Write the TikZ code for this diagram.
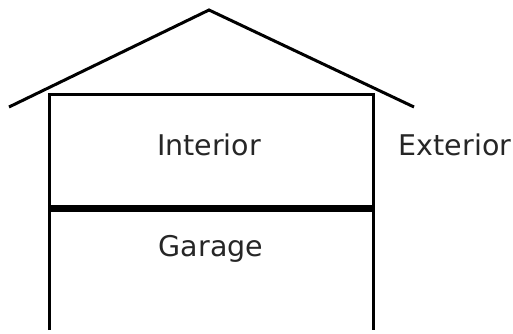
\documentclass[tikz,border=0pt]{standalone}
\usepackage{fontspec}
\setmainfont{DejaVu Sans}
\begin{document}
\begin{tikzpicture}[x=1pt,y=1pt,
  wall/.style={line width=3pt},
  floorline/.style={line width=7pt},
  label/.style={font=\fontsize{28.5}{32}\selectfont, text=black!85, inner sep=0pt}]
\useasboundingbox (0,0) rectangle (513,333);
% roof
\coordinate (eaveL) at (9,226);
\coordinate (apex) at (209,323);
\coordinate (eaveR) at (414,226);
\draw[wall, line join=miter] (eaveL) -- (apex) -- (eaveR);
% walls and ceiling
\coordinate (wbl) at (49,3);
\coordinate (wtl) at (49,239);
\coordinate (wtr) at (373,239);
\coordinate (wbr) at (373,3);
\draw[wall] (wbl) -- (wtl) -- (wtr) -- (wbr);
% floor between the interior and the garage
\coordinate (fl) at (49,125);
\coordinate (fr) at (373,125);
\draw[floorline] (fl) -- (fr);
% labels
\node[label] (interior) at (209,188) {Interior};
\node[label] (garage) at (211,84) {Garage};
\node[label] (exterior) at (455,188) {Exterior};
\end{tikzpicture}
\end{document}
